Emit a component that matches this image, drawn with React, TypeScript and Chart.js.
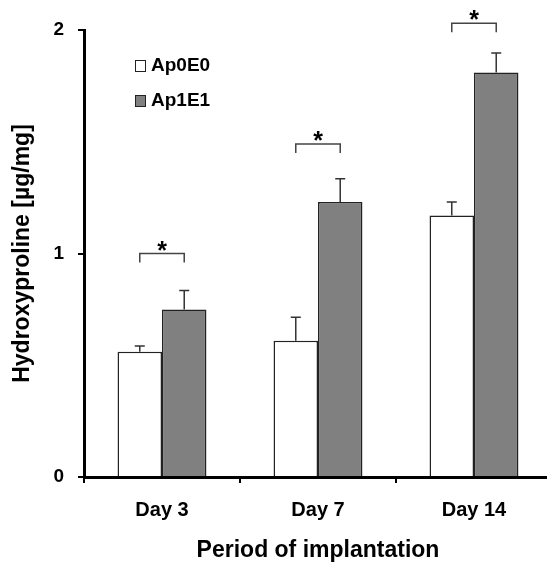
import React, { useEffect, useRef } from 'react';
import { Chart, registerables } from 'chart.js';
Chart.register(...registerables);

const categories = ['Day 3', 'Day 7', 'Day 14'];
const seriesNames = ['Ap0E0', 'Ap1E1'];
const ap0e0 = [0.56, 0.61, 1.17];
const ap0e0Err = [0.026, 0.105, 0.06];
const ap1e1 = [0.75, 1.23, 1.81];
const ap1e1Err = [0.085, 0.105, 0.087];
const bracketLevels = [1.0, 1.49, 2.03];
const significance = ['*', '*', '*'];
const yTicks = [0, 1, 2];
const errors = [ap0e0Err, ap1e1Err];

const FONT = "'Liberation Sans', Arial, sans-serif";

const errorBarPlugin = {
  id: 'errorBars',
  afterDatasetsDraw(chart: any) {
    const ctx = chart.ctx;
    const y = chart.scales.y;
    ctx.save();
    ctx.strokeStyle = '#333';
    ctx.lineWidth = 1.5;
    chart.data.datasets.forEach((ds: any, d: number) => {
      const meta = chart.getDatasetMeta(d);
      meta.data.forEach((el: any, i: number) => {
        const top = y.getPixelForValue(ds.data[i] + errors[d][i]);
        ctx.beginPath();
        ctx.moveTo(el.x, el.y);
        ctx.lineTo(el.x, top);
        ctx.moveTo(el.x - 5, top);
        ctx.lineTo(el.x + 5, top);
        ctx.stroke();
      });
    });
    ctx.restore();
  },
};

const bracketPlugin = {
  id: 'brackets',
  afterDraw(chart: any) {
    const ctx = chart.ctx;
    const y = chart.scales.y;
    const m0 = chart.getDatasetMeta(0);
    const m1 = chart.getDatasetMeta(1);
    ctx.save();
    ctx.strokeStyle = '#444';
    ctx.lineWidth = 1.5;
    ctx.fillStyle = '#000';
    ctx.font = `bold 25px ${FONT}`;
    ctx.textAlign = 'center';
    ctx.textBaseline = 'alphabetic';
    bracketLevels.forEach((lv, i) => {
      const x1 = m0.data[i].x;
      const x2 = m1.data[i].x;
      const py = y.getPixelForValue(lv);
      ctx.beginPath();
      ctx.moveTo(x1, py + 9);
      ctx.lineTo(x1, py);
      ctx.lineTo(x2, py);
      ctx.lineTo(x2, py + 9);
      ctx.stroke();
      ctx.fillText(significance[i], (x1 + x2) / 2, py + 5);
    });
    ctx.restore();
  },
};

const legendPlugin = {
  id: 'customLegend',
  afterDraw(chart: any) {
    const ctx = chart.ctx;
    const { left, top } = chart.chartArea;
    ctx.save();
    ctx.font = `bold 19px ${FONT}`;
    ctx.textBaseline = 'middle';
    ctx.textAlign = 'left';
    chart.data.datasets.forEach((ds: any, d: number) => {
      const bx = left + 51;
      const by = top + 30 + d * 35;
      ctx.fillStyle = ds.backgroundColor;
      ctx.fillRect(bx, by, 10, 11);
      ctx.strokeStyle = '#222';
      ctx.lineWidth = 1;
      ctx.strokeRect(bx + 0.5, by + 0.5, 10, 11);
      ctx.fillStyle = '#000';
      ctx.fillText(ds.label, bx + 16, by + 6);
    });
    ctx.restore();
  },
};

export default function App() {
  const ref = useRef<HTMLCanvasElement>(null);
  useEffect(() => {
    if (!ref.current) return;
    const chart = new Chart(ref.current, {
      type: 'bar',
      data: {
        labels: categories,
        datasets: [
          {
            label: seriesNames[0],
            data: ap0e0,
            backgroundColor: '#ffffff',
            borderColor: '#222',
            borderWidth: 1.5,
            categoryPercentage: 0.57,
            barPercentage: 1,
          },
          {
            label: seriesNames[1],
            data: ap1e1,
            backgroundColor: '#808080',
            borderColor: '#222',
            borderWidth: 1.5,
            categoryPercentage: 0.57,
            barPercentage: 1,
          },
        ],
      },
      options: {
        responsive: false,
        animation: false,
        devicePixelRatio: 1,
        layout: { padding: { left: 0, top: 30, right: 8, bottom: 0 } },
        plugins: { legend: { display: false }, tooltip: { enabled: false } },
        scales: {
          x: {
            afterFit: (s: any) => { s.height = 90; },
            grid: { offset: true, drawOnChartArea: false, tickLength: 6, color: '#000', lineWidth: 2 },
            border: { display: true, color: '#000', width: 3 },
            ticks: { color: '#000', font: { family: FONT, size: 20, weight: 'bold' }, padding: 15 },
            title: {
              display: true,
              text: 'Period of implantation',
              color: '#000',
              font: { family: FONT, size: 23, weight: 'bold' },
              padding: { top: 0, bottom: 3 },
            },
          },
          y: {
            min: 0,
            max: 2,
            afterFit: (s: any) => { s.width = 84; },
            afterBuildTicks: (s: any) => { s.ticks = yTicks.map((v) => ({ value: v })); },
            grid: { drawOnChartArea: false, tickLength: 6, color: '#000', lineWidth: 2 },
            border: { display: true, color: '#000', width: 3 },
            ticks: { color: '#000', font: { family: FONT, size: 19, weight: 'bold' }, padding: 14 },
            title: {
              display: true,
              text: 'Hydroxyproline [µg/mg]',
              color: '#000',
              font: { family: FONT, size: 23, weight: 'bold' },
              padding: { top: 9, bottom: 0 },
            },
          },
        },
      },
      plugins: [errorBarPlugin, bracketPlugin, legendPlugin],
    } as any);
    return () => chart.destroy();
  }, []);
  return (
    <div style={{ position: 'fixed', left: 0, top: 0, width: 547, height: 567, overflow: 'hidden', background: '#fff' }}>
      <canvas ref={ref} width={560} height={567} style={{ display: 'block' }} />
    </div>
  );
}
